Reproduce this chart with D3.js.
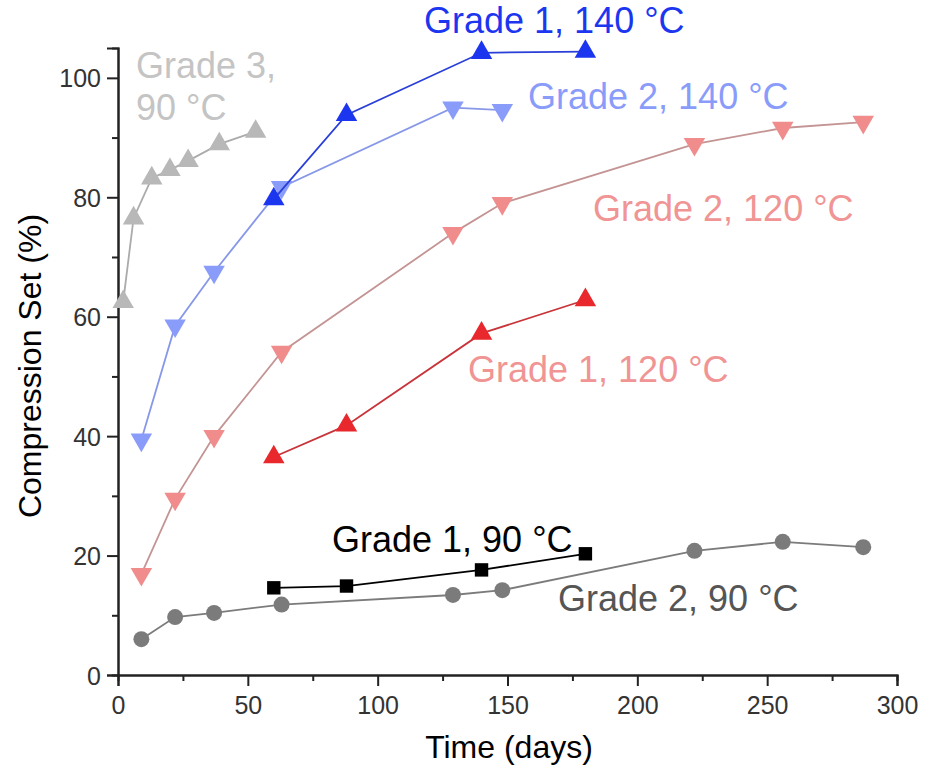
<!DOCTYPE html>
<html>
<head>
<meta charset="utf-8">
<script src="https://cdn.jsdelivr.net/npm/d3@7"></script>
<style>
  body { margin: 0; background: #fff; }
  text { font-family: "Liberation Sans", Arial, sans-serif; }
</style>
</head>
<body>
<div id="chart"></div>
<script>
// days of each test run
const daysGrade2 = [9, 22, 37, 63, 129, 148, 222, 256, 287];
const daysGrade1 = [60, 88, 140, 180];
const daysGrade3 = [2, 6, 13, 20, 27, 39, 53];

// compression set (%)
const g2at90 = [6, 9.7, 10.4, 11.8, 13.4, 14.2, 20.8, 22.3, 21.4];
const g1at90 = [14.6, 14.9, 17.6, 20.3];
const g1at120 = [36.5, 41.8, 57.2, 62.8];
const g2at120 = [16.9, 29.5, 40, 54.1, 74, 79, 88.9, 91.6, 92.6];
const g2at140 = [39.4, 58.5, 67.5, 81.7, 95, 94.6];
const g1at140 = [79.7, 93.8, 104.2, 104.4];
const g3at90 = [62.5, 76.5, 83.2, 84.6, 86.1, 88.9, 91];

const xTicks = [0, 50, 100, 150, 200, 250, 300];
const yTicks = [0, 20, 40, 60, 80, 100];

const width = 932, height = 773;
const svg = d3.select('#chart').append('svg')
  .attr('width', width)
  .attr('height', height);

const x = d3.scaleLinear().domain([0, 300]).range([118, 897]);
const y = d3.scaleLinear().domain([0, 105]).range([675, 48]);

const series = [
  { days: daysGrade2, vals: g2at90, shape: 'circle', fill: '#7b7b7b', line: '#7b7b7b' },
  { days: daysGrade1, vals: g1at90, shape: 'square', fill: '#000', line: '#000' },
  { days: daysGrade2, vals: g2at120, shape: 'down', fill: '#f08c8c', line: '#c49494' },
  { days: daysGrade1, vals: g1at120, shape: 'up', fill: '#e8282c', line: '#c8343a' },
  { days: daysGrade2.slice(0, 6), vals: g2at140, shape: 'down', fill: '#8a9cfa', line: '#8898e8' },
  { days: daysGrade1, vals: g1at140, shape: 'up', fill: '#1c36f0', line: '#2a3fd8' },
  { days: daysGrade3, vals: g3at90, shape: 'up', fill: '#b8b8b8', line: '#ababab' }
];

const labels = [
  { text: 'Grade 3,', x: 136, y: 78, color: '#c4c4c4' },
  { text: '90 °C', x: 136, y: 120, color: '#c4c4c4' },
  { text: 'Grade 1, 140 °C', x: 424, y: 33, color: '#1c36f0' },
  { text: 'Grade 2, 140 °C', x: 528, y: 109, color: '#8a9cfa' },
  { text: 'Grade 2, 120 °C', x: 593, y: 221, color: '#f09494' },
  { text: 'Grade 1, 120 °C', x: 468, y: 382, color: '#f09494' },
  { text: 'Grade 1, 90 °C', x: 332, y: 552, color: '#000' },
  { text: 'Grade 2, 90 °C', x: 558, y: 611, color: '#555' }
];

// axes
const xMinor = svg.append('g').attr('transform', 'translate(0,675)')
  .call(d3.axisBottom(x).tickValues(d3.range(25, 300, 50)).tickSize(6).tickFormat(''));
const yMinor = svg.append('g').attr('transform', 'translate(118,0)')
  .call(d3.axisLeft(y).tickValues(d3.range(10, 105, 20)).tickSize(6).tickFormat(''));

const xAxis = svg.append('g').attr('transform', 'translate(0,675)')
  .call(d3.axisBottom(x).tickValues(xTicks).tickSize(11).tickPadding(4));
const yAxis = svg.append('g').attr('transform', 'translate(118,0)')
  .call(d3.axisLeft(y).tickValues(yTicks).tickSize(11).tickPadding(6));

[xMinor, yMinor, xAxis, yAxis].forEach(g => {
  g.select('.domain').attr('stroke', '#222').attr('stroke-width', 2);
  g.selectAll('.tick line').attr('stroke', '#222').attr('stroke-width', 2);
  g.selectAll('.tick text').attr('fill', '#333').style('font-size', '25px');
});
xAxis.selectAll('.tick text').attr('dy', '0.95em');
yAxis.selectAll('.tick text').attr('dy', '0.36em');

svg.append('text')
  .attr('x', 509).attr('y', 758)
  .attr('text-anchor', 'middle')
  .attr('fill', '#000')
  .style('font-size', '32px')
  .text('Time (days)');

svg.append('text')
  .attr('transform', 'translate(41,366) rotate(-90)')
  .attr('text-anchor', 'middle')
  .attr('fill', '#000')
  .style('font-size', '32px')
  .text('Compression Set (%)');

// lines and markers
const line = d3.line().x(d => x(d[0])).y(d => y(d[1]));
const tri = d3.symbol().type(d3.symbolTriangle).size(200)();
const circ = d3.symbol().type(d3.symbolCircle).size(200)();
const sq = d3.symbol().type(d3.symbolSquare).size(180)();

series.forEach(s => {
  const pts = s.vals.map((v, i) => [s.days[i], v]);
  svg.append('path')
    .attr('d', line(pts))
    .attr('fill', 'none')
    .attr('stroke', s.line)
    .attr('stroke-width', 1.8);

  svg.append('g').selectAll('path')
    .data(pts)
    .join('path')
    .attr('d', s.shape === 'circle' ? circ : s.shape === 'square' ? sq : tri)
    .attr('transform', d => `translate(${x(d[0])},${y(d[1])})` + (s.shape === 'down' ? ' rotate(180)' : ''))
    .attr('fill', s.fill);
});

svg.append('g').selectAll('text')
  .data(labels)
  .join('text')
  .attr('x', d => d.x)
  .attr('y', d => d.y)
  .attr('fill', d => d.color)
  .style('font-size', '36px')
  .text(d => d.text);
</script>
</body>
</html>
